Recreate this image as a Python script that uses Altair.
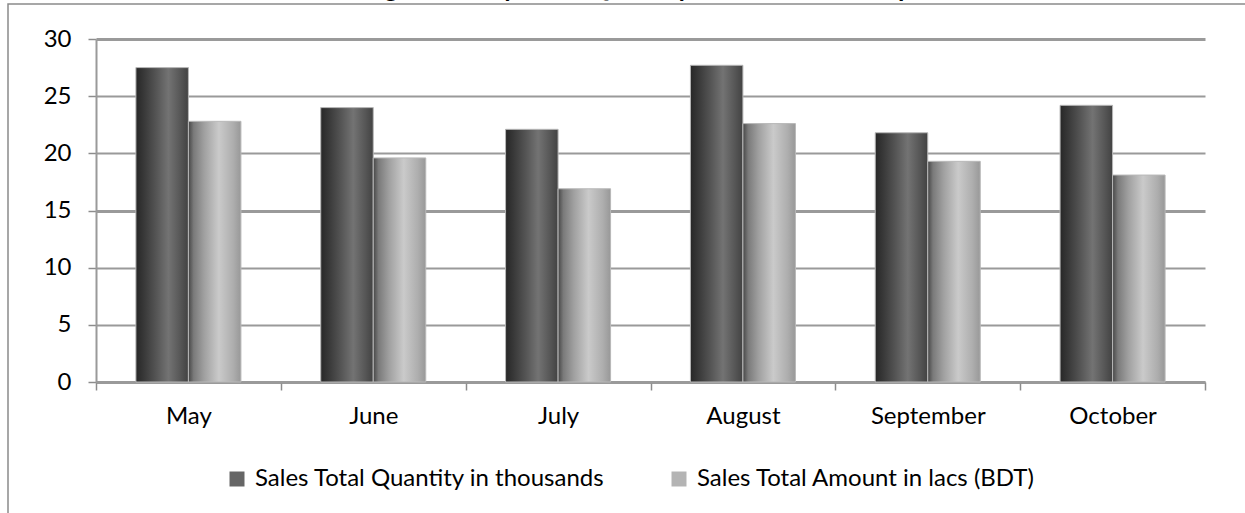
import altair as alt
import pandas as pd

# ---- data ----
months = ["May", "June", "July", "August", "September", "October"]
qty_thousands = [27.5, 24.0, 22.1, 27.7, 21.8, 24.2]
amount_lacs = [22.8, 19.6, 16.9, 22.6, 19.3, 18.1]
series_names = ["Sales Total Quantity in thousands", "Sales Total Amount in lacs (BDT)"]
legend_colors = ["#666666", "#b4b4b4"]
y_ticks = [0, 5, 10, 15, 20, 25, 30]
title_text = "Average Monthly Sales Quantity and Amount Comparison"

rows = []
for m, q, a in zip(months, qty_thousands, amount_lacs):
    rows.append({"Month": m, "Series": series_names[0], "Value": q})
    rows.append({"Month": m, "Series": series_names[1], "Value": a})
df = pd.DataFrame(rows)

FONT = "Lato"
W, H = 1109, 343

grad_dark = alt.LinearGradient(
    gradient="linear", x1=0, x2=1, y1=0, y2=0,
    stops=[
        alt.GradientStop(offset=0.0, color="#272727"),
        alt.GradientStop(offset=0.15, color="#383838"),
        alt.GradientStop(offset=0.38, color="#545454"),
        alt.GradientStop(offset=0.62, color="#737373"),
        alt.GradientStop(offset=0.85, color="#565656"),
        alt.GradientStop(offset=1.0, color="#424242"),
    ],
)
grad_light = alt.LinearGradient(
    gradient="linear", x1=0, x2=1, y1=0, y2=0,
    stops=[
        alt.GradientStop(offset=0.0, color="#464646"),
        alt.GradientStop(offset=0.1, color="#7a7a7a"),
        alt.GradientStop(offset=0.3, color="#a0a0a0"),
        alt.GradientStop(offset=0.58, color="#cacaca"),
        alt.GradientStop(offset=0.85, color="#aeaeae"),
        alt.GradientStop(offset=1.0, color="#989898"),
    ],
)

x_enc = alt.X(
    "Month:N", sort=months,
    scale=alt.Scale(paddingInner=0, paddingOuter=0),
    axis=alt.Axis(
        title=None, tickBand="extent", labelAngle=0, grid=False,
        domainColor="#9a9a9a", domainWidth=2,
        tickColor="#8c8c8c", tickSize=8, tickWidth=1.5,
        labelFont=FONT, labelFontSize=24, labelColor="#000000", labelPadding=14,
    ),
)
y_enc = alt.Y(
    "Value:Q",
    scale=alt.Scale(domain=[0, 30], nice=False),
    axis=alt.Axis(
        title=None, values=y_ticks, grid=True,
        gridColor="#9a9a9a",
        gridWidth={"condition": {"test": "datum.value % 15 === 0", "value": 3}, "value": 2},
        domainColor="#9a9a9a", domainWidth=2,
        tickColor="#8c8c8c", tickSize=8, tickWidth=1.5,
        labelFont=FONT, labelFontSize=24, labelColor="#000000", labelPadding=17,
    ),
)
xo = alt.XOffset(
    "Series:N", sort=series_names,
    scale=alt.Scale(domain=series_names, paddingInner=0, paddingOuter=0.76),
)

frame = alt.Chart(pd.DataFrame({"k": [0]})).mark_rect(
    fillOpacity=0, stroke="#8a8a8a", strokeWidth=1.5
).encode(
    x=alt.value(-88), x2=alt.value(1200), y=alt.value(-35), y2=alt.value(520)
)

legend_layer = alt.Chart(df).mark_bar(opacity=0).encode(
    x=x_enc, xOffset=xo, y=y_enc,
    color=alt.Color(
        "Series:N", sort=series_names,
        scale=alt.Scale(domain=series_names, range=legend_colors),
        legend=alt.Legend(
            title=None, orient="none", legendX=129, legendY=428,
            direction="horizontal", symbolType="square", symbolSize=225,
            symbolOpacity=1, symbolStrokeWidth=0,
            labelFont=FONT, labelFontSize=24, labelColor="#000000",
            labelOffset=6, columnPadding=62, labelLimit=600,
        ),
    ),
)

dark = alt.Chart(df).transform_filter(
    alt.datum.Series == series_names[0]
).mark_bar(fill=grad_dark, stroke="#b8b8b8", strokeWidth=1).encode(
    x=x_enc, xOffset=xo, y=y_enc
)
light = alt.Chart(df).transform_filter(
    alt.datum.Series == series_names[1]
).mark_bar(fill=grad_light, stroke="#b8b8b8", strokeWidth=1).encode(
    x=x_enc, xOffset=xo, y=y_enc
)

chart = alt.layer(frame, legend_layer, dark, light).properties(
    width=W, height=H,
    title=alt.TitleParams(
        text=title_text, font=FONT, fontSize=26, fontWeight="bold", color="#000000",
        anchor="middle", baseline="alphabetic", offset=0, dy=20,
    ),
    autosize=alt.AutoSizeParams(type="none"),
    padding={"left": 96, "top": 39, "right": 40, "bottom": 131},
    background="white",
).configure_view(strokeWidth=0)

chart.save("out.html", embed_options={"renderer": "svg", "actions": False})
